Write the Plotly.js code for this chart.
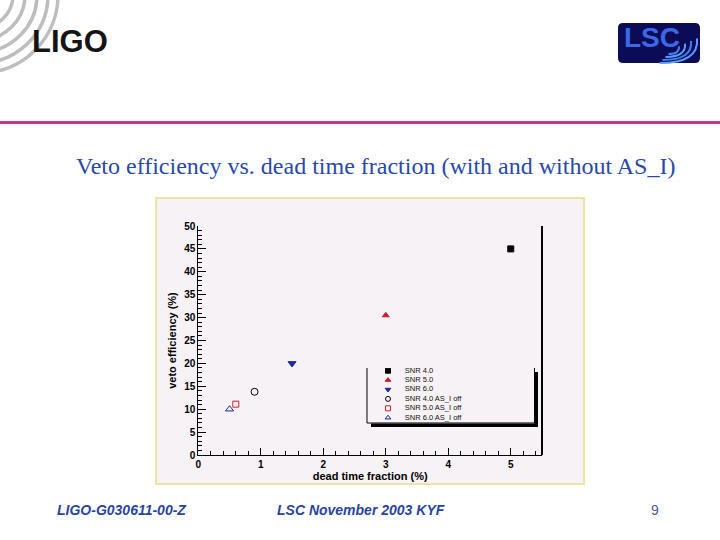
<!DOCTYPE html>
<html>
<head>
<meta charset="utf-8">
<script src="https://cdn.plot.ly/plotly-3.0.1.min.js"></script>
<style>html,body{margin:0;padding:0;background:#ffffff;}</style>
</head>
<body>
<div id="chart" style="width:720px;height:540px;"></div>
<script>
// ---------- data ----------
const seriesNames = ['SNR 4.0', 'SNR 5.0', 'SNR 6.0', 'SNR 4.0 AS_I off', 'SNR 5.0 AS_I off', 'SNR 6.0 AS_I off'];
const deadTimeFraction = [5.0, 3.0, 1.5, 0.9, 0.6, 0.5];     // %
const vetoEfficiency  = [45.0, 30.5, 20.0, 13.8, 11.1, 10.0]; // %
const xTickValues = [0, 1, 2, 3, 4, 5];
const xTickLabels = ['0', '1', '2', '3', '4', '5'];
const yTickValues = [0, 5, 10, 15, 20, 25, 30, 35, 40, 45, 50];
const yTickLabels = ['0', '5', '10', '15', '20', '25', '30', '35', '40', '45', '50'];
const legendRows = [6, 5, 4, 3, 2, 1];

// ---------- styles ----------
const markerSymbols = ['square', 'triangle-up', 'triangle-down', 'circle-open', 'square-open', 'triangle-up-open'];
const markerColors  = ['#000000', '#cc1f2a', '#1a2a9c', '#000000', '#cc1f2a', '#1a2a9c'];
const markerSizes   = [6, 6, 7, 7, 6, 7];

const W = 720, H = 540;
const fx = x => x / W;
const fy = y => 1 - y / H;
function pathPx(segs) {
  return segs.map(s => {
    const c = s[0];
    if (c === 'Z') return 'Z';
    let out = c;
    for (let i = 1; i < s.length; i += 2) {
      out += (i > 1 ? ' ' : '') + fx(s[i]).toFixed(5) + ',' + fy(s[i + 1]).toFixed(5);
    }
    return out;
  }).join(' ');
}

const sans = 'Liberation Sans, Arial, Helvetica, sans-serif';
const traces = [];
seriesNames.forEach((name, i) => {
  traces.push({
    type: 'scatter', mode: 'markers', name: name,
    x: [deadTimeFraction[i]], y: [vetoEfficiency[i]],
    xaxis: 'x', yaxis: 'y', cliponaxis: false, showlegend: false,
    marker: { symbol: markerSymbols[i], color: markerColors[i], size: markerSizes[i],
              line: { color: markerColors[i], width: 1 } }
  });
});
// legend box (custom, on its own hidden axes)
traces.push({
  type: 'scatter', mode: 'markers', xaxis: 'x2', yaxis: 'y2', showlegend: false,
  x: legendRows.map(() => 0.125), y: legendRows,
  marker: { symbol: markerSymbols, color: markerColors, size: 5,
            line: { color: markerColors, width: 1 } }
});
traces.push({
  type: 'scatter', mode: 'text', xaxis: 'x2', yaxis: 'y2', showlegend: false,
  x: legendRows.map(() => 0.225), y: legendRows, text: seriesNames,
  textposition: 'middle right',
  textfont: { family: sans, size: 7.5, color: '#111111' }
});

const shapes = [];
// plot panel (image background)
shapes.push({ type: 'rect', xref: 'paper', yref: 'paper', layer: 'below',
  x0: fx(156), x1: fx(584), y0: fy(484), y1: fy(198),
  fillcolor: '#f7f2f5', line: { color: '#ebe5a3', width: 2 } });
// right frame line
shapes.push({ type: 'line', xref: 'paper', yref: 'paper', layer: 'above',
  x0: fx(542), x1: fx(542), y0: fy(226), y1: fy(455), line: { color: '#000', width: 2 } });
// legend frame (left, bottom, right) + shadow
shapes.push({ type: 'path', xref: 'paper', yref: 'paper', layer: 'above',
  path: pathPx([['M', 367, 368], ['L', 367, 423], ['L', 534.5, 423], ['L', 534.5, 368]]),
  line: { color: '#000', width: 1 } });
shapes.push({ type: 'rect', xref: 'paper', yref: 'paper', layer: 'above',
  x0: fx(534.5), x1: fx(538), y0: fy(372), y1: fy(427), fillcolor: '#000', line: { width: 0 } });
shapes.push({ type: 'rect', xref: 'paper', yref: 'paper', layer: 'above',
  x0: fx(371), x1: fx(538), y0: fy(423.5), y1: fy(427), fillcolor: '#000', line: { width: 0 } });
// magenta rule
shapes.push({ type: 'line', xref: 'paper', yref: 'paper', layer: 'below',
  x0: 0, x1: 1, y0: fy(122.5), y1: fy(122.5), line: { color: '#c7358f', width: 3 } });
// LIGO arcs
[33, 45, 57, 68, 78].forEach(r => {
  shapes.push({ type: 'circle', xref: 'paper', yref: 'paper', layer: 'below',
    x0: fx(-20 - r), x1: fx(-20 + r), y0: fy(-5 + r), y1: fy(-5 - r),
    line: { color: '#bdbdbd', width: 3.5 } });
});
// LSC logo background (rounded rect)
const L = 618, R = 700, T = 23, B = 63, rr = 5;
shapes.push({ type: 'path', xref: 'paper', yref: 'paper', layer: 'below',
  path: pathPx([['M', L + rr, T], ['L', R - rr, T], ['Q', R, T, R, T + rr], ['L', R, B - rr],
                ['Q', R, B, R - rr, B], ['L', L + rr, B], ['Q', L, B, L, B - rr],
                ['L', L, T + rr], ['Q', L, T, L + rr, T], ['Z']]),
  fillcolor: '#0c0c56', line: { width: 0 } });
// LSC ripples
[[7, 4], [13, 7], [19, 10], [25, 13]].forEach((e, k) => {
  const cx = 672, cy = 50, rx = e[0], ry = e[1];
  shapes.push({ type: 'path', xref: 'paper', yref: 'paper', layer: 'above',
    path: pathPx([['M', cx + rx, cy - ry * 0.9], ['Q', cx + rx * 1.1, cy + ry, cx - rx * 0.5, cy + ry]]),
    line: { color: k % 2 ? '#5a9cff' : '#3f7ff0', width: 2 } });
});

const annotations = [
  { text: 'LIGO', x: fx(70), y: fy(41), xref: 'paper', yref: 'paper', showarrow: false,
    xanchor: 'center', yanchor: 'middle', font: { family: sans, size: 31, weight: 'bold', color: '#141414' } },
  { text: 'LSC', x: fx(652), y: fy(37), xref: 'paper', yref: 'paper', showarrow: false,
    xanchor: 'center', yanchor: 'middle', font: { family: sans, size: 28, weight: 'bold', color: '#3a68e6' } },
  { text: 'Veto efficiency vs. dead time fraction (with and without AS_I)', x: fx(375), y: fy(166),
    xref: 'paper', yref: 'paper', showarrow: false, xanchor: 'center', yanchor: 'middle',
    font: { family: 'Liberation Serif, Times New Roman, serif', size: 24, color: '#2a48aa' } },
  { text: '<b><i>LIGO-G030611-00-Z</i></b>', x: fx(55), y: fy(510), xref: 'paper', yref: 'paper', showarrow: false,
    xanchor: 'left', yanchor: 'middle', font: { family: sans, size: 14, color: '#2844a0' } },
  { text: '<b><i>LSC November 2003 KYF</i></b>', x: fx(361), y: fy(510), xref: 'paper', yref: 'paper', showarrow: false,
    xanchor: 'center', yanchor: 'middle', font: { family: sans, size: 14, color: '#2844a0' } },
  { text: '9', x: fx(655), y: fy(510), xref: 'paper', yref: 'paper', showarrow: false,
    xanchor: 'center', yanchor: 'middle', font: { family: sans, size: 14, color: '#4a5a9a' } }
];

const tickFont = { family: sans, size: 10, weight: 'bold', color: '#000' };
const layout = {
  width: W, height: H, margin: { l: 0, r: 0, t: 0, b: 0 },
  paper_bgcolor: '#ffffff', plot_bgcolor: 'rgba(0,0,0,0)', showlegend: false,
  xaxis: {
    domain: [fx(198.3), fx(542)], range: [0, 5.5], fixedrange: true,
    showline: true, linecolor: '#000', linewidth: 1, showgrid: false, zeroline: false,
    ticks: 'inside', ticklen: 7, tickcolor: '#000', tickwidth: 1,
    tickmode: 'array', tickvals: xTickValues, ticktext: xTickLabels, tickfont: tickFont,
    minor: { dtick: 0.2, tick0: 0, ticks: 'inside', ticklen: 4, tickcolor: '#000', showgrid: false },
    title: { text: 'dead time fraction (%)', standoff: 1, font: { family: sans, size: 11, weight: 'bold', color: '#000' } }
  },
  yaxis: {
    domain: [fy(455), fy(226)], range: [0, 50], fixedrange: true,
    showline: true, linecolor: '#000', linewidth: 1, showgrid: false, zeroline: false,
    ticks: 'inside', ticklen: 8, tickcolor: '#000', tickwidth: 1,
    tickmode: 'array', tickvals: yTickValues, ticktext: yTickLabels, tickfont: tickFont,
    minor: { dtick: 1, tick0: 0, ticks: 'inside', ticklen: 4, tickcolor: '#000', showgrid: false },
    title: { text: 'veto efficiency (%)', standoff: 5, font: { family: sans, size: 11, weight: 'bold', color: '#000' } }
  },
  xaxis2: { domain: [fx(367), fx(535)], range: [0, 1], visible: false, fixedrange: true, anchor: 'y2' },
  yaxis2: { domain: [fy(423), fy(368)], range: [0.436, 6.287], visible: false, fixedrange: true, anchor: 'x2' },
  shapes: shapes,
  annotations: annotations
};

Plotly.newPlot('chart', traces, layout, { displayModeBar: false, staticPlot: true });
</script>
</body>
</html>
